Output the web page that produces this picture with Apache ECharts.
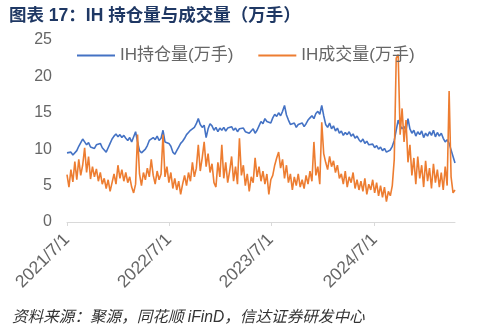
<!DOCTYPE html>
<html><head><meta charset="utf-8">
<script src="https://cdn.jsdelivr.net/npm/echarts@6/dist/echarts.min.js"></script>
<style>html,body{margin:0;padding:0;background:#fff}#c{width:485px;height:335px}</style>
</head><body><div id="c"></div>
<script>
const startDate = '2021-07-01';
const tickLabels = ['2021/7/1', '2022/7/1', '2023/7/1', '2024/7/1'];
const seriesNames = ['IH持仓量(万手)', 'IH成交量(万手)'];
const openInterest = [
  9.5, 9.3, 9.6, 9.2, 9.4,
  9.8, 10.4, 10.2, 11.4, 11.0,
  10.6, 10.9, 10.3, 10.5, 10.1,
  10.6, 10.4, 10.8, 10.2, 9.9,
  9.6, 10.2, 10.8, 11.4, 11.8,
  12.1, 11.7, 12.0, 11.6, 11.9,
  11.5, 11.2, 11.6, 11.0, 10.8,
  12.4, 11.0, 9.8, 9.5, 9.7,
  10.0, 10.5, 11.2, 11.0, 11.6,
  11.3, 11.8, 11.2, 11.5, 12.6,
  11.0, 11.2, 10.8, 10.4, 9.6,
  9.3, 9.8, 10.3, 10.8, 11.1,
  11.5, 12.0, 12.3, 12.6, 12.4,
  13.0, 13.5, 14.2, 13.4, 13.0,
  13.3, 11.6, 12.8, 13.5, 13.2,
  12.6, 13.0, 12.4, 12.9, 12.6,
  13.0, 12.5, 12.9, 12.7, 13.1,
  12.6, 12.9, 12.4, 12.8, 12.6,
  12.9, 12.4, 12.6, 12.2, 12.5,
  12.8, 12.2, 12.6, 13.2, 13.8,
  13.5, 14.2, 13.8, 14.0, 13.6,
  14.3, 14.8, 14.5, 15.0, 14.6,
  15.2, 16.0, 14.7, 14.0, 13.4,
  13.2, 13.6, 13.0, 13.4, 13.2,
  13.6, 13.1, 13.5, 14.0, 14.3,
  14.6, 14.2, 14.9, 15.2, 14.8,
  16.0, 14.6, 13.4, 13.0, 13.6,
  12.8, 13.2, 12.5, 12.9, 12.2,
  12.5, 11.9, 12.3, 12.0, 12.4,
  11.8, 12.1, 11.5, 11.8, 11.3,
  11.0, 11.4, 10.8, 11.1, 10.6,
  10.4, 10.7, 10.2, 10.5, 10.0,
  10.3, 9.8, 10.1, 9.6, 9.4,
  9.9, 10.4, 11.2, 11.0, 14.0,
  13.2, 12.8, 13.1, 12.6, 14.2,
  12.8, 12.2, 12.6, 11.8, 12.4,
  12.0, 12.5, 11.6, 12.2, 11.8,
  12.4, 11.9, 12.6, 11.7, 12.3,
  11.8, 12.2, 11.5, 11.0, 11.3,
  10.8, 10.6, 9.0, 8.1
];
const volume = [
  6.5, 4.8, 7.2, 5.5, 8.3,
  5.8, 8.6, 6.4, 7.8, 10.2,
  6.8, 9.0, 5.9, 7.6, 6.2,
  7.3, 5.6, 6.8, 5.2, 6.0,
  4.6, 5.8, 4.2, 5.4, 6.6,
  5.2, 7.8, 6.0, 7.2, 5.6,
  6.8, 5.4, 6.2, 4.8, 4.0,
  5.2, 12.0, 6.6, 5.0, 6.8,
  5.8, 7.4, 6.2, 8.6, 6.4,
  5.2, 7.0, 5.8, 6.6, 12.0,
  6.2, 7.6, 5.4, 6.8, 4.6,
  6.0, 4.4, 5.6, 3.8, 5.2,
  6.4, 5.0, 6.8, 5.6, 8.2,
  6.2, 7.4, 10.6, 7.0, 8.8,
  11.0, 7.6, 9.4, 6.8, 8.0,
  5.4, 4.8, 8.2, 6.2, 10.6,
  6.0, 8.2, 5.4, 7.0, 9.0,
  5.6, 7.6, 5.2, 11.5, 6.4,
  7.8, 5.0, 6.6, 4.2, 6.2,
  5.4, 8.8, 6.2, 7.6, 5.6,
  7.0, 5.2, 6.6, 3.8, 5.8,
  6.4, 7.8, 8.8, 9.6, 7.4,
  8.6, 6.0, 7.8, 5.4, 6.6,
  4.4, 6.2, 5.0, 6.6, 4.8,
  5.8, 4.6, 6.4, 5.2, 7.0,
  5.6, 11.0, 6.4, 7.6, 5.2,
  13.7, 9.4, 8.2, 7.2, 9.0,
  7.6, 8.4, 6.8, 7.8, 6.0,
  6.6, 5.2, 7.0, 4.8, 6.2,
  5.4, 6.8, 4.6, 5.8, 4.4,
  5.6, 4.2, 6.0, 3.8, 5.2,
  4.4, 5.8, 4.0, 5.4, 3.6,
  5.0, 3.4, 4.8, 2.8, 4.2,
  3.6, 5.0, 8.6, 22.5, 23.0,
  12.0, 15.6, 11.0, 14.0, 8.2,
  10.6, 6.4, 8.8, 5.2, 9.0,
  6.0, 7.8, 4.8, 8.4, 5.6,
  7.4, 4.6, 8.0, 5.4, 7.2,
  4.8, 6.8, 4.4, 7.6, 5.0,
  18.0, 6.2, 4.0, 4.4
];

// weekly category dates
const categories = [];
const d0 = new Date(startDate + 'T00:00:00Z');
for (let i = 0; i < openInterest.length; i++) {
  const d = new Date(d0.getTime() + i * 7 * 86400000);
  categories.push(d.getUTCFullYear() + '/' + (d.getUTCMonth() + 1) + '/' + d.getUTCDate());
}
// index nearest to each tick label date
const tickIndex = {};
tickLabels.forEach(t => {
  const p = t.split('/').map(Number);
  const td = Date.UTC(p[0], p[1] - 1, p[2]);
  let best = 0, bd = Infinity;
  for (let i = 0; i < categories.length; i++) {
    const q = categories[i].split('/').map(Number);
    const dd = Math.abs(Date.UTC(q[0], q[1] - 1, q[2]) - td);
    if (dd < bd) { bd = dd; best = i; }
  }
  tickIndex[best] = t;
});

const FONT = '"Liberation Sans", "Noto Sans CJK SC", sans-serif';
const chart = echarts.init(document.getElementById('c'));
chart.setOption({
  animation: false,
  textStyle: { fontFamily: FONT },
  title: [
    { text: '图表 17：IH 持仓量与成交量（万手）', left: 4, top: 2,
      textStyle: { fontSize: 17.5, fontWeight: 'bold', color: '#1F3864', fontFamily: FONT } },
    { text: '资料来源：聚源，同花顺 iFinD，信达证券研发中心', left: 7, top: 305,
      textStyle: { fontSize: 15.6, fontWeight: 'normal', fontStyle: 'italic', color: '#333333', fontFamily: FONT } }
  ],
  legend: {
    left: 72, top: 42, itemGap: 25, itemWidth: 38, itemHeight: 2, icon: 'rect',
    textStyle: { fontSize: 17, color: '#666666', fontFamily: FONT },
    data: seriesNames
  },
  grid: { left: 67, right: 30, top: 40, bottom: 113, containLabel: false },
  xAxis: {
    type: 'category', data: categories, boundaryGap: false,
    axisLine: { lineStyle: { color: '#D9D9D9', width: 1 } },
    axisTick: { show: true, interval: (i) => tickIndex[i] !== undefined, length: 4, lineStyle: { color: '#D9D9D9' } },
    axisLabel: { interval: (i) => tickIndex[i] !== undefined, rotate: 45, margin: 15, fontSize: 17.5, color: '#666666',
      formatter: (v, i) => tickIndex[i] || '' },
    splitLine: { show: false }
  },
  yAxis: {
    type: 'value', min: 0, max: 25, interval: 5,
    axisLine: { show: false }, axisTick: { show: false },
    splitLine: { show: false },
    axisLabel: { fontSize: 16, color: '#666666', margin: 15 }
  },
  series: [
    { name: seriesNames[0], type: 'line', data: openInterest, symbol: 'none',
      lineStyle: { color: '#4472C4', width: 1.6 }, itemStyle: { color: '#4472C4' } },
    { name: seriesNames[1], type: 'line', data: volume, symbol: 'none',
      lineStyle: { color: '#ED7D31', width: 1.6 }, itemStyle: { color: '#ED7D31' } }
  ]
});
</script></body></html>
